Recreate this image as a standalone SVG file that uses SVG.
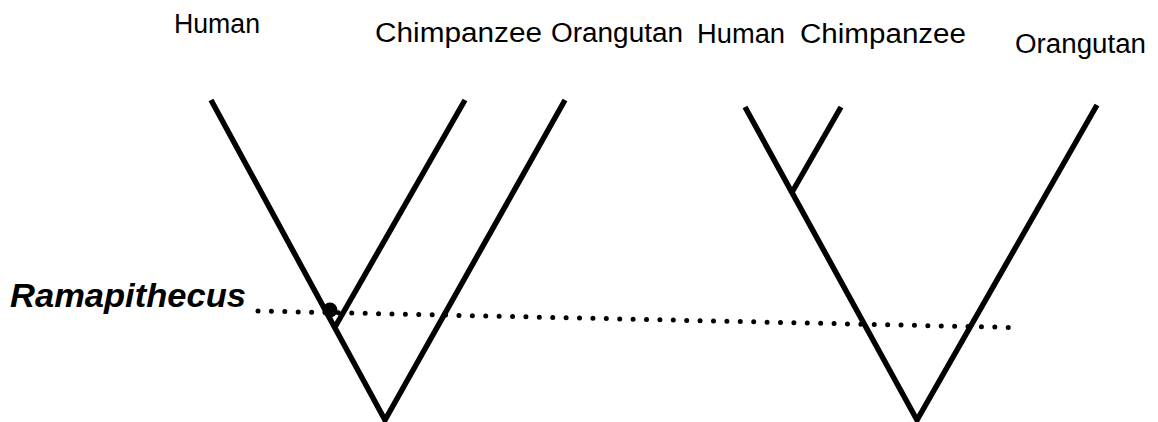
<svg xmlns="http://www.w3.org/2000/svg" width="1158" height="422" viewBox="0 0 1158 422">
<style>
.lbl{font-family:"Liberation Sans",Arial,sans-serif;font-size:27px;fill:#000}
.br{fill:none;stroke:#000;stroke-width:5.5;stroke-linejoin:miter;stroke-linecap:butt}
.dots{fill:none;stroke:#000;stroke-width:5;stroke-linecap:round;stroke-dasharray:0 13.4}
.ram{font-family:"Liberation Sans",Arial,sans-serif;font-size:33px;font-weight:bold;font-style:italic;fill:#000}
</style>
<rect width="1158" height="422" fill="#fff"/>
<g id="labels">
<text id="human1" class="lbl" x="174" y="33" textLength="86" lengthAdjust="spacingAndGlyphs">Human</text>
<text id="chimp1" class="lbl" x="375" y="42" textLength="167" lengthAdjust="spacingAndGlyphs">Chimpanzee</text>
<text id="orang1" class="lbl" x="551" y="42" textLength="132" lengthAdjust="spacingAndGlyphs">Orangutan</text>
<text id="human2" class="lbl" x="697" y="43" textLength="88" lengthAdjust="spacingAndGlyphs">Human</text>
<text id="chimp2" class="lbl" x="800" y="43" textLength="166" lengthAdjust="spacingAndGlyphs">Chimpanzee</text>
<text id="orang2" class="lbl" x="1015" y="53" textLength="131" lengthAdjust="spacingAndGlyphs">Orangutan</text>
</g>
<g id="tree-left">
<polyline class="br" points="211,100 385,420 565,100"/>
<line class="br" x1="465" y1="100" x2="335" y2="327"/>
</g>
<g id="tree-right">
<polyline class="br" points="745,107 917,420 1097,105"/>
<line class="br" x1="841" y1="107" x2="791" y2="194"/>
</g>
<g id="connectors">
<line class="dots" x1="258" y1="311" x2="1012" y2="327.5"/>
</g>
<g id="ramapithecus">
<text class="ram" x="10" y="307" textLength="236" lengthAdjust="spacingAndGlyphs">Ramapithecus</text>
<circle cx="330" cy="310" r="7.5" fill="#000"/>
</g>
</svg>
